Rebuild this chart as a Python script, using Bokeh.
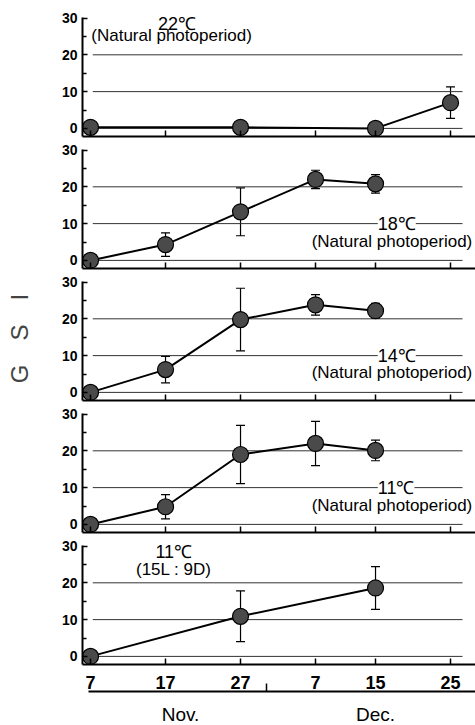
from bokeh.plotting import figure
from bokeh.layouts import column
from bokeh.models import (ColumnDataSource, Whisker, TeeHead, FixedTicker,
                          LinearAxis, Label, Range1d, CustomLabelingPolicy)
from bokeh.embed import file_html
from bokeh.resources import INLINE

# ---------------- data ----------------
day_ticks = [0, 10, 20, 30, 38, 48]          # days after 7 Nov
day_labels = ["7", "17", "27", "7", "15", "25"]
month_centres = [12, 38]
month_labels = ["Nov.", "Dec."]
month_boundary = [23.5]
y_ticks = [0, 10, 20, 30]
y_minor = [5, 15, 25]
grid_values = [0, 10, 20]

days_22 = [0, 20, 38, 48]
gsi_22 = [0.3, 0.3, 0.0, 7.0]
err_22 = [0.0, 0.0, 0.0, 4.3]

days_18 = [0, 10, 20, 30, 38]
gsi_18 = [0.0, 4.3, 13.2, 22.0, 20.8]
err_18 = [0.0, 3.2, 6.5, 2.5, 2.5]

days_14 = [0, 10, 20, 30, 38]
gsi_14 = [0.0, 6.2, 19.8, 23.8, 22.2]
err_14 = [0.0, 3.6, 8.5, 2.8, 2.0]

days_11n = [0, 10, 20, 30, 38]
gsi_11n = [0.0, 4.8, 19.0, 22.0, 20.1]
err_11n = [0.0, 3.3, 7.9, 6.0, 2.8]

days_11l = [0, 20, 38]
gsi_11l = [0.0, 10.9, 18.6]
err_11l = [0.0, 6.9, 5.8]

FONT = "Liberation Sans"
X0, X1 = -1.07, 51.33
Y0, Y1 = -2.2, 31.5
GX0, GX1 = 0.3, 49.6

HIDE_LABELS = CustomLabelingPolicy(
    code="for (const i of Array.from(indices)) { indices.unset(i) } return indices")


def make_panel(days, gsi, err, top_border, last=False, ylabel=None):
    p = figure(frame_width=393, frame_height=124,
               x_range=Range1d(X0, X1), y_range=Range1d(Y0, Y1),
               output_backend="svg", toolbar_location=None,
               min_border_left=82, min_border_right=0,
               min_border_top=top_border, min_border_bottom=5)
    p.outline_line_color = None
    p.xgrid.visible = False
    p.ygrid.visible = False
    p.background_fill_color = "white"
    p.border_fill_color = "white"

    # y axis
    ya = p.yaxis[0]
    ya.ticker = FixedTicker(ticks=y_ticks, minor_ticks=y_minor)
    ya.major_tick_in = 5
    ya.major_tick_out = 0
    ya.minor_tick_in = 4
    ya.minor_tick_out = 0
    ya.axis_line_width = 2
    ya.bounds = (Y0, 30.2)
    ya.major_tick_line_width = 1.5
    ya.minor_tick_line_width = 1.5
    ya.major_label_standoff = 5
    ya.major_label_text_font = FONT
    ya.major_label_text_font_size = "14px"
    ya.major_label_text_font_style = "bold"
    ya.major_label_text_color = "black"
    if ylabel:
        ya.axis_label = ylabel
        ya.axis_label_text_font = FONT
        ya.axis_label_text_font_size = "24px"
        ya.axis_label_text_font_style = "normal"
        ya.axis_label_standoff = 26

    # x axis
    xa = p.xaxis[0]
    xa.ticker = FixedTicker(ticks=day_ticks)
    xa.major_tick_in = 6
    xa.major_tick_out = 0
    xa.major_tick_line_width = 1.5
    xa.minor_tick_line_color = None
    xa.axis_line_width = 2
    xa.axis_label_standoff = 0
    if last:
        xa.major_label_overrides = dict(zip(day_ticks, day_labels))
        xa.major_label_text_font = FONT
        xa.major_label_text_font_size = "18px"
        xa.major_label_text_font_style = "bold"
        xa.major_label_text_color = "black"
        xa.major_label_standoff = 11
        ma = LinearAxis(ticker=FixedTicker(ticks=month_centres, minor_ticks=month_boundary),
                        major_label_overrides=dict(zip(month_centres, month_labels)),
                        major_tick_in=0, major_tick_out=0,
                        minor_tick_in=8, minor_tick_out=0, minor_tick_line_width=1.5,
                        axis_line_width=2, bounds=(-0.3, X1),
                        axis_label_standoff=0,
                        major_label_standoff=12,
                        major_label_text_font=FONT,
                        major_label_text_font_size="19px",
                        major_label_text_color="black")
        p.add_layout(ma, "below")
    else:
        xa.major_label_policy = HIDE_LABELS
        xa.major_label_text_font_size = "1px"
        xa.major_label_standoff = 0

    # horizontal reference lines
    n = len(grid_values)
    p.segment(x0=[GX0] * n, y0=grid_values, x1=[GX1] * n, y1=grid_values,
              line_color="#333333", line_width=1)

    src = ColumnDataSource(dict(
        x=days, y=gsi,
        upper=[g + e for g, e in zip(gsi, err)],
        lower=[g - e for g, e in zip(gsi, err)]))
    w = Whisker(source=src, base="x", upper="upper", lower="lower",
                dimension="height", line_color="black", line_width=1.2,
                upper_head=TeeHead(size=9, line_color="black", line_width=1.2),
                lower_head=TeeHead(size=9, line_color="black", line_width=1.2))
    p.add_layout(w)
    p.line("x", "y", source=src, line_color="black", line_width=2)
    p.scatter("x", "y", source=src, size=16, fill_color="#4a4a4a",
              line_color="black", line_width=1.2)
    return p


def lab(p, x, y, text, size, align="left", bg=None):
    kw = dict(x=x, y=y, text=text, text_font=FONT, text_font_size=size,
              text_align=align, text_baseline="middle", text_color="black")
    if bg:
        kw["background_fill_color"] = bg
    p.add_layout(Label(**kw))


p1 = make_panel(days_22, gsi_22, err_22, 12)
lab(p1, 9.0, 28.3, "22℃", "18px")
lab(p1, 0.1, 25.2, "(Natural photoperiod)", "17px")

p2 = make_panel(days_18, gsi_18, err_18, 3)
lab(p2, 38.3, 10, "18℃", "18px", bg="white")
lab(p2, 50.9, 5.2, "(Natural photoperiod)", "17px", align="right")

p3 = make_panel(days_14, gsi_14, err_14, 3, ylabel="G\u2003S\u2003I")
lab(p3, 38.3, 10, "14℃", "18px", bg="white")
lab(p3, 50.9, 5.5, "(Natural photoperiod)", "17px", align="right")

p4 = make_panel(days_11n, gsi_11n, err_11n, 3)
lab(p4, 38.3, 10, "11℃", "18px", bg="white")
lab(p4, 50.9, 5.2, "(Natural photoperiod)", "17px", align="right")

p5 = make_panel(days_11l, gsi_11l, err_11l, 3, last=True)
lab(p5, 11.1, 28.4, "11℃", "18px", align="center")
lab(p5, 11.1, 23.5, "(15L : 9D)", "17px", align="center")

layout = column(p1, p2, p3, p4, p5, spacing=0)

open("out.html", "w").write(file_html(layout, INLINE))
